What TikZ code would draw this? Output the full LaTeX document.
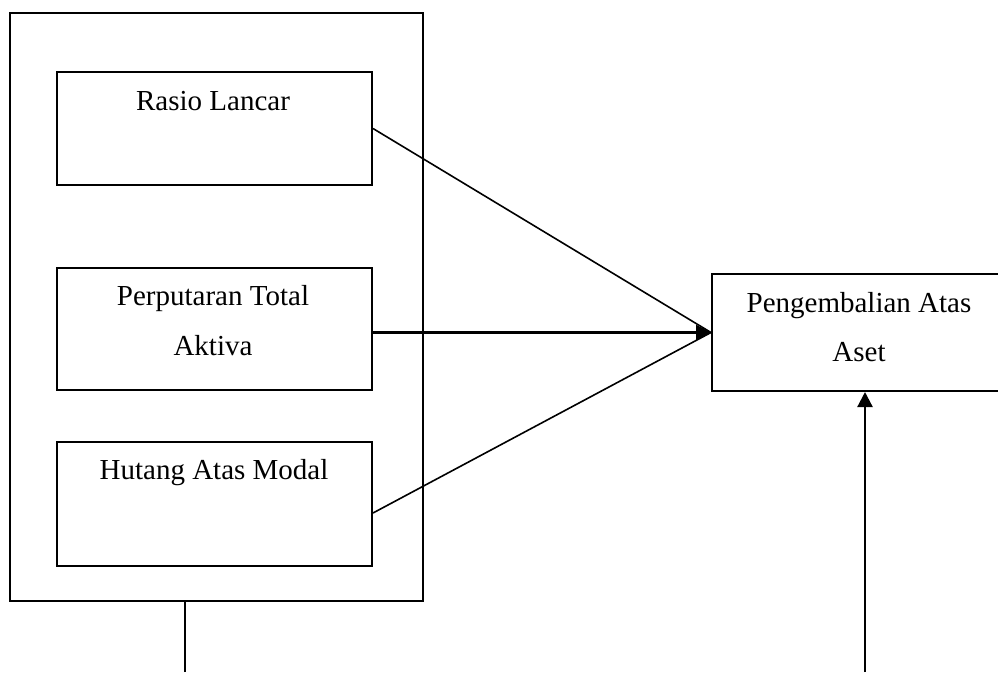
\documentclass[tikz,border=0pt]{standalone}
\usepackage{fontspec}
\setmainfont{Liberation Serif}
\usetikzlibrary{arrows.meta,calc}
\begin{document}
\begin{tikzpicture}[x=1pt,y=-1pt,
  box/.style={draw,line width=2pt,rectangle,inner sep=0pt},
  lbl/.style={anchor=base,inner sep=0pt,font=\fontsize{29}{34}\selectfont},
  conn/.style={line width=1.6pt},
  arr/.style={line width=2.2pt,-{Triangle[length=15pt,width=15pt]}}]
\clip (0,0) rectangle (998,672);
\fill[white] (0,0) rectangle (998,672);
% outer frame
\node[box,minimum width=413,minimum height=588] (outer) at (216.5,307) {};
% inner boxes
\node[box,minimum width=315,minimum height=113] (rasio) at (214.5,128.5) {};
\node[box,minimum width=315,minimum height=122] (perp) at (214.5,329) {};
\node[box,minimum width=315,minimum height=124] (hutang) at (214.5,504) {};
\node[box,minimum width=294,minimum height=117] (peng) at (859,332.5) {};
% labels
\node[lbl] (t1) at (213,110) {Rasio Lancar};
\node[lbl] (t2) at (213,305) {Perputaran Total};
\node[lbl] (t3) at (213,355) {Aktiva};
\node[lbl] (t4) at (214,479) {Hutang Atas Modal};
\node[lbl] (t5) at (859,312) {Pengembalian Atas};
\node[lbl] (t6) at (859,361) {Aset};
% connectors
\coordinate (hstart) at ($(hutang.east)+(0,9)$);
\coordinate (pstart) at (perp.east |- peng.west);
\draw[conn] (rasio.east) -- (peng.west);
\draw[conn] (hstart) -- (peng.west);
\draw[arr] (pstart) -- (peng.west);
\coordinate (b1) at (185,672);
\coordinate (b2) at (865,672);
\draw[conn] (b1) -- (b1 |- outer.south);
\draw[arr] (b2) -- (b2 |- peng.south);
\end{tikzpicture}
\end{document}
